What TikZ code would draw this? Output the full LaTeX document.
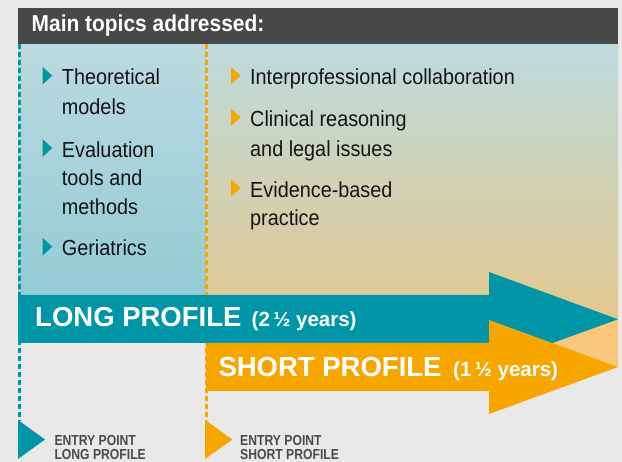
\documentclass[tikz,border=0pt]{standalone}
\usepackage{fontspec}
\setmainfont{Liberation Sans}
\newfontfamily\bodyfont[FakeStretch=0.91]{Liberation Sans}
\newfontfamily\hdrfont[FakeStretch=0.91]{Liberation Sans}
\newfontfamily\entryfont[FakeStretch=0.84]{Liberation Sans}
\definecolor{bgc}{HTML}{E8E9E8}
\definecolor{hdrc}{HTML}{474847}
\definecolor{tealc}{HTML}{0096A7}
\definecolor{orc}{HTML}{F7A600}
\definecolor{lorc}{HTML}{FAC87C}
\definecolor{lbtop}{HTML}{BBDADF}
\definecolor{lbbot}{HTML}{93CBD5}
\definecolor{rtop}{HTML}{BEDBDD}
\definecolor{rmid}{HTML}{C8D3BC}
\definecolor{rbot}{HTML}{E2C88E}
\definecolor{txtc}{HTML}{141414}
\definecolor{etxtc}{HTML}{4A4A4A}
\newcommand\mybul[3]{\fill[#1] (#2,#3-18) -- ++(9.6,8.7) -- (#2,#3-0.6) -- cycle;}
\tikzset{
  itemtxt/.style={anchor=base west, inner sep=0pt, text=txtc, font=\bodyfont\fontsize{21.8}{21.8}\selectfont},
  hdrtxt/.style={anchor=base west, inner sep=0pt, text=white, font=\hdrfont\bfseries\fontsize{23}{23}\selectfont},
  bigtxt/.style={anchor=base west, inner sep=0pt, text=white, font=\bfseries\fontsize{27.5}{27.5}\selectfont},
  smalltxt/.style={anchor=base west, inner sep=0pt, text=white, font=\bfseries\fontsize{20.5}{20.5}\selectfont},
  entrytxt/.style={anchor=base west, inner sep=0pt, text=etxtc, font=\entryfont\bfseries\fontsize{14.5}{14.5}\selectfont},
  guide/.style={line width=2.2pt, dash pattern=on 5pt off 3pt}
}
\begin{document}
\begin{tikzpicture}[x=1pt,y=-1pt]
\useasboundingbox (0,0) rectangle (622,462);
\fill[bgc] (0,0) rectangle (622,462);
% panels
\shade[top color=rtop, middle color=rmid, bottom color=rbot] (206,44) rectangle (618,320);
\shade[top color=lbtop, bottom color=lbbot] (18,44) rectangle (206,300);
\fill[lorc] (489,319) rectangle (618,367);
% header
\fill[hdrc] (18,8) rectangle (618,44.3);
\node[hdrtxt] (hdr) at (31.5,32) {Main topics addressed:};
% guides
\coordinate (gl0) at (19.5,44.3);
\coordinate (gl1) at (19.5,421);
\coordinate (gs0) at (206.5,44.3);
\coordinate (gs1) at (206.5,421);
\draw[guide, tealc] (gl0) -- (gl1);
\draw[guide, orc] (gs0) -- (gs1);
% left items
\mybul{tealc}{42.7}{85}
\mybul{tealc}{42.7}{157.3}
\mybul{tealc}{42.7}{256}
\node[itemtxt] (t1a) at (61.7,85) {Theoretical};
\node[itemtxt] (t1b) at (61.7,115) {models};
\node[itemtxt] (t2a) at (61.7,157.3) {Evaluation};
\node[itemtxt] (t2b) at (61.7,186) {tools and};
\node[itemtxt] (t2c) at (61.7,214.3) {methods};
\node[itemtxt] (t3a) at (61.7,256) {Geriatrics};
% right items
\mybul{orc}{231}{85}
\mybul{orc}{231}{126.7}
\mybul{orc}{231}{197.3}
\node[itemtxt] (r1a) at (250,85) {Interprofessional collaboration};
\node[itemtxt] (r2a) at (250,126.7) {Clinical reasoning};
\node[itemtxt] (r2b) at (250,156.7) {and legal issues};
\node[itemtxt] (r3a) at (250,197.3) {Evidence-based};
\node[itemtxt] (r3b) at (250,226) {practice};
% arrows
\fill[tealc] (18,295) -- (489,295) -- (489,272) -- (618,319.3) -- (489,366) -- (489,343) -- (18,343) -- cycle;
\fill[orc] (206,343) -- (489,343) -- (489,320) -- (618,367) -- (489,414) -- (489,391) -- (206,391) -- cycle;
\node[bigtxt] (lp) at (35,326.7) {LONG PROFILE};
\node[smalltxt] (ly) at (251.5,326.7) {(2\,½ years)};
\node[bigtxt] (sp) at (218.3,377) {SHORT PROFILE};
\node[smalltxt] (sy) at (453,377) {(1\,½ years)};
% entry points
\fill[tealc] (18,420) -- (45,439.5) -- (18,459) -- cycle;
\fill[orc] (205,420) -- (232.3,439.5) -- (205,459) -- cycle;
\node[entrytxt] (el1) at (54.3,445.7) {ENTRY POINT};
\node[entrytxt] (el2) at (54.3,460) {LONG PROFILE};
\node[entrytxt] (es1) at (240,445.7) {ENTRY POINT};
\node[entrytxt] (es2) at (240,460) {SHORT PROFILE};
\end{tikzpicture}
\end{document}
